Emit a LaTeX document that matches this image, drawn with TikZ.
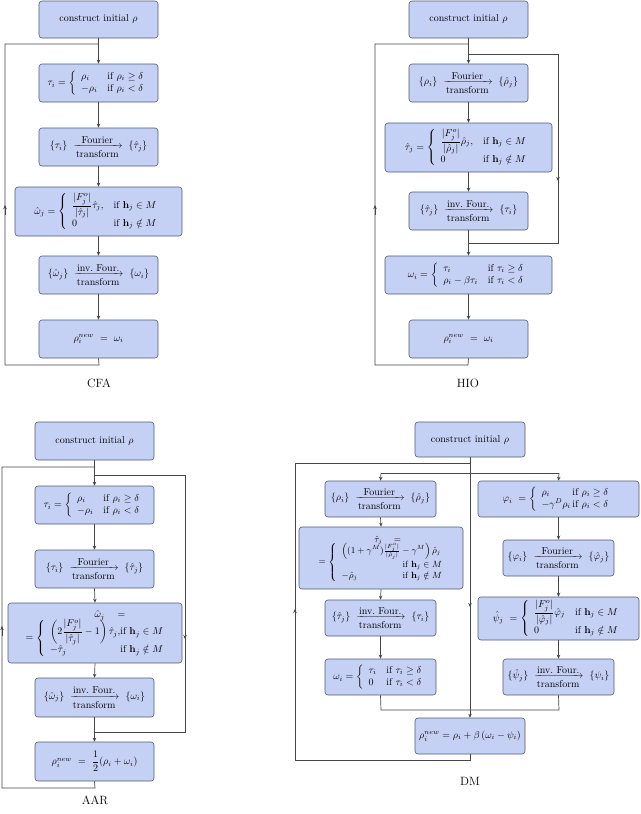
\documentclass[tikz,border=0pt]{standalone}
\usepackage{amsmath,amssymb}
\usetikzlibrary{arrows.meta}
\definecolor{boxfill}{RGB}{197,208,245}
\definecolor{boxdraw}{RGB}{80,90,115}
\definecolor{linec}{RGB}{70,70,70}
\newcommand{\fbx}[6]{\node[box,minimum width={(#3-#2)*1pt},minimum height={(#5-#4)*1pt}] (#1) at ({(#2+#3)/2},{(#4+#5)/2}) {#6};}
\newcommand{\FT}[2]{$\{#1\}\ \xrightarrow[\mbox{transform}]{\mbox{Fourier}}\ \{#2\}$}
\newcommand{\IFT}[2]{$\{#1\}\ \xrightarrow[\mbox{transform}]{\mbox{inv.\ Four.}}\ \{#2\}$}
\begin{document}
\begin{tikzpicture}[x=1pt,y=-1pt,
  box/.style={draw=boxdraw,fill=boxfill,rounded corners=3pt,inner sep=1pt,align=center,line width=0.6pt},
  ln/.style={draw=linec,line width=0.7pt},
  arr/.style={ln,-{Stealth[length=4pt,width=3.5pt]}},
  captext/.style={font=\large}]
\useasboundingbox (0,0) rectangle (640,814);
% ---------------- CFA
\fbx{a1}{39}{158}{1}{38}{construct initial $\rho$}
\fbx{a2}{39}{158}{64}{102}{$\tau_i=\left\{\begin{array}{ll}\rho_i & \text{if }\rho_i\ge\delta\\ -\rho_i & \text{if }\rho_i<\delta\end{array}\right.$}
\fbx{a3}{39}{158}{128}{166}{\FT{\tau_i}{\hat\tau_j}}
\fbx{a4}{15}{182}{187}{236}{$\hat\omega_j=\left\{\begin{array}{ll}\dfrac{|F^o_j|}{|\hat\tau_j|}\hat\tau_j, & \text{if }\mathbf h_j\in M\\ 0 & \text{if }\mathbf h_j\notin M\end{array}\right.$}
\fbx{a5}{39}{158}{256}{294}{\IFT{\hat\omega_j}{\omega_i}}
\fbx{a6}{39}{158}{320}{358}{$\rho_i^{new}\ =\ \omega_i$}
\foreach \u/\v in {a1/a2,a2/a3,a3/a4,a4/a5,a5/a6} \draw[arr] (\u.south) -- (\v.north);
\draw[ln] (a6.south) -- (99,365) -- (5,365) -- (5,44) -- (99,44);
\draw[arr] (5,215) -- (5,205);
\node[captext] (ca) at (99,383) {CFA};
% ---------------- HIO
\fbx{h1}{409}{528}{1}{38}{construct initial $\rho$}
\fbx{h2}{409}{528}{64}{102}{\FT{\rho_i}{\hat\rho_j}}
\fbx{h3}{385}{552}{123}{172}{$\hat\tau_j=\left\{\begin{array}{ll}\dfrac{|F^o_j|}{|\hat\rho_j|}\hat\rho_j, & \text{if }\mathbf h_j\in M\\ 0 & \text{if }\mathbf h_j\notin M\end{array}\right.$}
\fbx{h4}{409}{528}{192}{230}{\IFT{\hat\tau_j}{\tau_i}}
\fbx{h5}{385}{552}{256}{294}{$\omega_i=\left\{\begin{array}{ll}\tau_i & \text{if }\tau_i\ge\delta\\ \rho_i-\beta\tau_i & \text{if }\tau_i<\delta\end{array}\right.$}
\fbx{h6}{409}{528}{320}{358}{$\rho_i^{new}\ =\ \omega_i$}
\foreach \u/\v in {h1/h2,h2/h3,h3/h4,h4/h5,h5/h6} \draw[arr] (\u.south) -- (\v.north);
\draw[ln] (h6.south) -- (468,365) -- (375,365) -- (375,44) -- (468,44);
\draw[arr] (375,215) -- (375,205);
\draw[ln] (468,54) -- (558,54) -- (558,243) -- (468,243);
\draw[arr] (558,172) -- (558,181);
\node[captext] (ch) at (468,383) {HIO};
% ---------------- AAR
\fbx{r1}{35}{154}{422}{460}{construct initial $\rho$}
\fbx{r2}{35}{154}{486}{524}{$\tau_i=\left\{\begin{array}{ll}\rho_i & \text{if }\rho_i\ge\delta\\ -\rho_i & \text{if }\rho_i<\delta\end{array}\right.$}
\fbx{r3}{35}{154}{550}{588}{\FT{\tau_i}{\hat\tau_j}}
\fbx{r4}{8}{182}{603}{663}{$\begin{array}{@{}c@{}}\hspace{3em}\hat\omega_j\quad=\\[-2pt] =\left\{\begin{array}{l@{}r@{}}\left(2\dfrac{|F^o_j|}{|\hat\tau_j|}-1\right)\hat\tau_j, & \text{if }\mathbf h_j\in M\\ -\hat\tau_j & \text{if }\mathbf h_j\notin M\end{array}\right.\end{array}$}
\fbx{r5}{35}{154}{678}{717}{\IFT{\hat\omega_j}{\omega_i}}
\fbx{r6}{35}{154}{742}{781}{$\rho_i^{new}\ =\ \dfrac{1}{2}(\rho_i+\omega_i)$}
\foreach \u/\v in {r1/r2,r2/r3,r3/r4,r4/r5,r5/r6} \draw[arr] (\u.south) -- (\v.north);
\draw[ln] (r6.south) -- (95,788) -- (2,788) -- (2,467) -- (95,467);
\draw[arr] (2,636) -- (2,626);
\draw[ln] (95,475) -- (185,475) -- (185,732) -- (95,732);
\draw[arr] (185,630) -- (185,639);
\node[captext] (cr) at (95,800) {AAR};
% ---------------- DM
\fbx{d0}{415}{525}{422}{457}{construct initial $\rho$}
\fbx{l1}{325}{436}{481}{517}{\FT{\rho_i}{\hat\rho_j}}
\fbx{l2}{299}{463}{527}{589}{\small$\begin{array}{@{}c@{}}\hspace{1.5em}\hat\tau_j\quad=\\[-2pt] =\left\{\begin{array}{l@{}r@{}}\multicolumn{2}{l@{}}{\left((1+\gamma^M)\tfrac{|F^o_j|}{|\hat\rho_j|}-\gamma^M\right)\hat\rho_j}\\ & \text{if }\mathbf h_j\in M\\ -\hat\rho_j\hspace{5em} & \text{if }\mathbf h_j\notin M\end{array}\right.\end{array}$}
\fbx{l3}{325}{436}{600}{636}{\IFT{\hat\tau_j}{\tau_i}}
\fbx{l4}{325}{436}{659}{695}{$\omega_i=\left\{\begin{array}{ll}\tau_i & \text{if }\tau_i\ge\delta\\ 0 & \text{if }\tau_i<\delta\end{array}\right.$}
\fbx{q1}{478}{639}{481}{517}{$\varphi_i\ =\left\{\begin{array}{l@{\,}l}\rho_i & \text{if }\rho_i\ge\delta\\ -\gamma^D\rho_i & \text{if }\rho_i<\delta\end{array}\right.$}
\fbx{q2}{503}{614}{540}{576}{\FT{\varphi_i}{\hat\varphi_j}}
\fbx{q3}{478}{639}{597}{640}{$\hat\psi_j\ =\left\{\begin{array}{ll}\dfrac{|F^o_j|}{|\hat\varphi_j|}\hat\varphi_j & \text{if }\mathbf h_j\in M\\ 0 & \text{if }\mathbf h_j\notin M\end{array}\right.$}
\fbx{q4}{503}{614}{659}{695}{\IFT{\hat\psi_j}{\psi_i}}
\fbx{d9}{415}{525}{718}{754}{$\rho_i^{new}=\rho_i+\beta\,(\omega_i-\psi_i)$}
\foreach \u/\v in {l1/l2,l2/l3,l3/l4,q1/q2,q2/q3,q3/q4} \draw[arr] (\u.south) -- (\v.north);
\draw[arr] (d0.south) -- (d9.north);
\draw[arr] (470,598) -- (470,607);
\draw[ln] (381,473) -- (559,473);
\draw[arr] (381,473) -- (l1.north);
\draw[arr] (559,473) -- (q1.north);
\draw[ln] (l4.south) -- (381,710) -- (559,710) -- (q4.south);
\draw[ln] (d9.south) -- (470,760) -- (295,760) -- (295,463) -- (470,463);
\draw[arr] (295,619) -- (295,609);
\node[captext] (cd) at (470,781) {DM};
\end{tikzpicture}
\end{document}
